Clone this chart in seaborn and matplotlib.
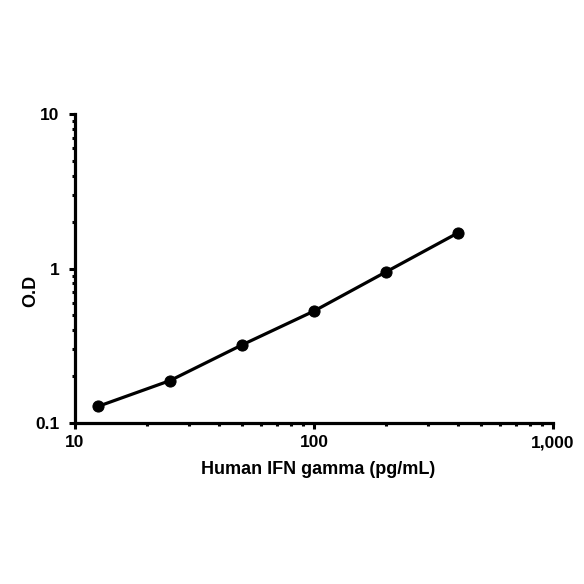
import matplotlib
matplotlib.use("Agg")
import matplotlib.pyplot as plt
import seaborn as sns
import pandas as pd
from matplotlib.ticker import FixedLocator, LogLocator, NullFormatter

# Standard curve values
concentration = [12.5, 25, 50, 100, 200, 400]
od_values = [0.128, 0.188, 0.32, 0.53, 0.95, 1.70]

x_ticks = [10, 100, 1000]
x_labels = ["10", "100", "1,000"]
y_ticks = [0.1, 1, 10]
y_labels = ["0.1", "1", "10"]

sns.set_style("ticks", {"text.color": "black", "axes.labelcolor": "black",
                        "xtick.color": "black", "ytick.color": "black"})
plt.rcParams['font.family'] = ['Liberation Sans', 'DejaVu Sans']

df = pd.DataFrame({"conc": concentration, "od": od_values})

fig = plt.figure(figsize=(5.84, 5.84), dpi=100)
ax = fig.add_axes([0.128, 0.2757, 0.819, 0.529])

sns.lineplot(data=df, x="conc", y="od", ax=ax, color="black", linewidth=2.3,
             marker="o", markersize=8, markeredgecolor="black")

ax.set_xscale("log")
ax.set_yscale("log")
ax.set_xlim(10, 1000)
ax.set_ylim(0.1, 10)

ax.xaxis.set_major_locator(FixedLocator(x_ticks))
ax.set_xticklabels(x_labels)
ax.yaxis.set_major_locator(FixedLocator(y_ticks))
ax.set_yticklabels(y_labels)
ax.xaxis.set_minor_locator(LogLocator(base=10, subs=range(2, 10)))
ax.yaxis.set_minor_locator(LogLocator(base=10, subs=range(2, 10)))
ax.xaxis.set_minor_formatter(NullFormatter())
ax.yaxis.set_minor_formatter(NullFormatter())

for lab in ax.get_xticklabels() + ax.get_yticklabels():
    lab.set_fontweight("bold")
ax.tick_params(axis="x", which="major", direction="out", length=4, width=2.2,
               labelsize=12.5, pad=5, colors="black")
ax.tick_params(axis="y", which="major", direction="out", length=4, width=2.2,
               labelsize=12.5, pad=7, colors="black")
ax.tick_params(axis="both", which="minor", direction="out", length=2.5, width=2.2,
               colors="black")

sns.despine(ax=ax)
for side in ["left", "bottom"]:
    ax.spines[side].set_linewidth(2.3)
    ax.spines[side].set_color("black")

ax.set_xlabel("Human IFN gamma (pg/mL)", fontsize=13, fontweight="bold", color="black")
ax.set_ylabel("O.D", fontsize=13, fontweight="bold", color="black")
ax.xaxis.set_label_coords(0.509, -0.123)
ax.yaxis.set_label_coords(-0.075, 0.427)

fig.savefig("out.png", dpi=100)
